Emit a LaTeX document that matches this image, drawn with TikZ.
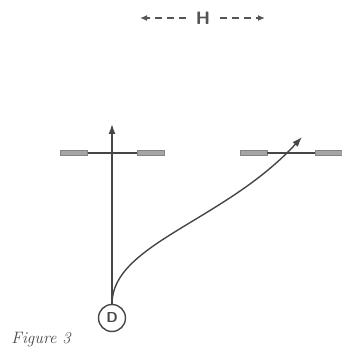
\documentclass[tikz,border=0pt]{standalone}
\usepackage{tikz}
\usetikzlibrary{arrows.meta,positioning,calc}
\definecolor{inkgray}{RGB}{70,70,70}
\definecolor{capgray}{RGB}{165,165,165}
\definecolor{labelgray}{RGB}{85,85,85}

\begin{document}
\begin{tikzpicture}[
      x=1pt, y=1pt,
      conebox/.style={rectangle, fill=capgray, draw=capgray!80!black, line width=0.3pt,
                  minimum width=27pt, minimum height=5pt, inner sep=0pt},
      bar/.style={draw=inkgray, line width=2pt},
      player/.style={circle, draw=inkgray, line width=1.4pt, minimum size=27pt,
                     inner sep=0pt, font=\sffamily\bfseries\Large, text=inkgray},
      runline/.style={draw=inkgray, line width=1.4pt, -{Latex[length=10pt,width=7pt]}},
      span/.style={draw=labelgray, line width=1.6pt, dash pattern=on 7pt off 5pt,
                   -{Latex[length=7pt,width=6pt]}},
    ]
      \useasboundingbox (0,0) rectangle (341,356);
      % width label
      \node[font=\sffamily\bfseries\fontsize{18}{20}\selectfont, text=labelgray] (H) at (203,338) {H};
      \coordinate (Hl) at (140,338);
      \coordinate (Hr) at (265,338);
      \draw[span] ([xshift=-17pt]H.center) -- (Hl);
      \draw[span] ([xshift=17pt]H.center) -- (Hr);
      % left pair of cones
      \node[conebox] (coneA) at (74,203) {};
      \node[conebox] (coneB) at (151,203) {};
      \draw[bar] (coneA.east) -- (coneB.west);
      % right pair of cones
      \node[conebox] (coneC) at (253.5,203) {};
      \node[conebox] (coneD) at (329,203) {};
      \draw[bar] (coneC.east) -- (coneD.west);
      % dribbler and runs
      \node[player] (D) at (112,38) {D};
      \coordinate (up) at (112,232);
      \coordinate (cut) at (302,219);
      \draw[runline] (D.north) -- (up);
      \draw[runline] (D.north) .. controls (112,112) and (225,135) .. (cut);
      % caption
      \node[font=\itshape\fontsize{16.5}{18}\selectfont, text=inkgray] (fig) at (41,16) {Figure 3};
    \end{tikzpicture}
\end{document}
